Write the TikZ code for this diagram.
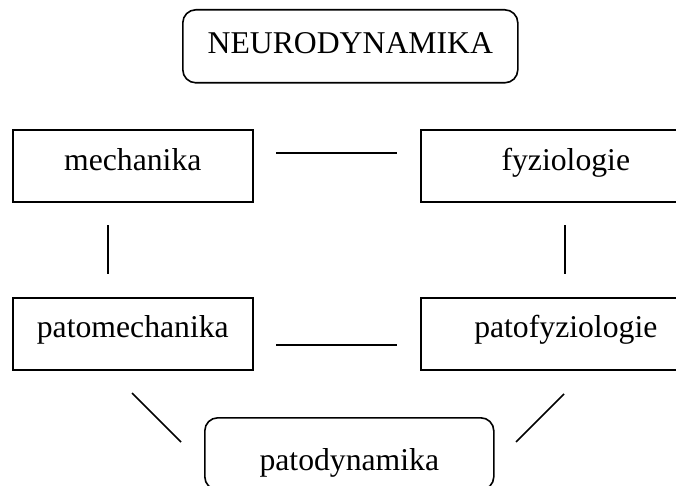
\documentclass[tikz,border=0pt]{standalone}
\usepackage{fontspec}
\setmainfont{Liberation Serif}
\begin{document}
\begin{tikzpicture}[x=1pt,y=-1pt,
  every node/.style={font=\fontsize{31.7}{38}\selectfont, inner sep=0pt, anchor=north west},
  sqbox/.style={draw, line width=1.6pt},
  rbox/.style={draw, line width=1.6pt, rounded corners=13pt},
  conn/.style={line width=1.6pt}]
\clip (0,0) rectangle (676,486);
\node[rbox, minimum width=335pt, minimum height=73pt, text height=25pt, text depth=10pt] (neuro) at (182,9) {NEURODYNAMIKA};
\node[sqbox, minimum width=240pt, minimum height=72pt, text height=22pt, text depth=12pt] (mech) at (12,129) {mechanika};
\node[sqbox, minimum width=290pt, minimum height=72pt, text height=22pt, text depth=12pt] (fyz) at (420,129) {fyziologie};
\node[sqbox, minimum width=240pt, minimum height=72pt, text height=21pt, text depth=13pt] (pmech) at (12,297) {patomechanika};
\node[sqbox, minimum width=290pt, minimum height=72pt, text height=21pt, text depth=13pt] (pfyz) at (420,297) {patofyziologie};
\node[rbox, minimum width=289pt, minimum height=72pt, text height=34pt, text depth=0pt] (pdyn) at (204,417) {patodynamika};
\coordinate (a1) at (276,153); \coordinate (a2) at (397,153);
\coordinate (b1) at (108,225); \coordinate (b2) at (108,274);
\coordinate (c1) at (565,225); \coordinate (c2) at (565,274);
\coordinate (d1) at (276,345); \coordinate (d2) at (397,345);
\coordinate (e1) at (132,393); \coordinate (e2) at (181,442);
\coordinate (f1) at (564,394); \coordinate (f2) at (516,442);
\draw[conn] (a1) -- (a2);
\draw[conn] (b1) -- (b2);
\draw[conn] (c1) -- (c2);
\draw[conn] (d1) -- (d2);
\draw[conn] (e1) -- (e2);
\draw[conn] (f1) -- (f2);
\end{tikzpicture}
\end{document}
